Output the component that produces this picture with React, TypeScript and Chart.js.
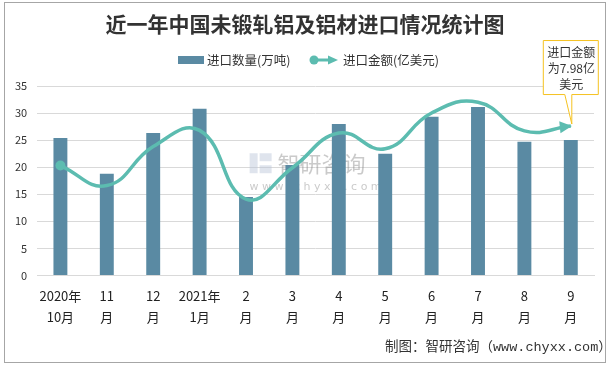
import React, { useEffect, useRef } from "react";
import { Chart, registerables } from "chart.js";

Chart.register(...registerables);

const categories: string[][] = [
  ["2020年", "10月"], ["11", "月"], ["12", "月"], ["2021年", "1月"], ["2", "月"], ["3", "月"],
  ["4", "月"], ["5", "月"], ["6", "月"], ["7", "月"], ["8", "月"], ["9", "月"],
];
const quantity: number[] = [25.4, 18.8, 26.3, 30.8, 14.5, 20.4, 28.0, 22.5, 29.3, 31.1, 24.7, 25.0];
const amount: number[] = [20.3, 16.6, 23.8, 26.8, 14.1, 19.9, 26.3, 23.4, 30.0, 32.0, 26.7, 27.6];
const yTicks: number[] = [0, 5, 10, 15, 20, 25, 30, 35];
const seriesNames = ["进口数量(万吨)", "进口金额(亿美元)"];
const titleText = "近一年中国未锻轧铝及铝材进口情况统计图";
const footerText = "制图：智研咨询（www.chyxx.com）";
const calloutLines = ["进口金额", "为7.98亿", "美元"];

const BAR = "#5a8aa3";
const LINE = "#5cbcb0";
const CJK = "'Noto Sans CJK SC', 'Microsoft YaHei', sans-serif";

const decorPlugin = {
  id: "decor",
  beforeDatasetsDraw(chart: any) {
    const ctx = chart.ctx;
    const area = chart.chartArea;
    const cx = (area.left + area.right) / 2;
    const cy = area.top + (area.bottom - area.top) * 0.45;
    ctx.save();
    ctx.globalAlpha = 0.45;
    ctx.fillStyle = "#b8c4d8";
    ctx.fillRect(cx - 66, cy - 18, 8, 20);
    ctx.fillRect(cx - 56, cy - 18, 12, 8);
    ctx.fillRect(cx - 56, cy - 6, 12, 8);
    ctx.fillStyle = "#8a8a8a";
    ctx.font = `22px ${CJK}`;
    ctx.textBaseline = "middle";
    ctx.fillText("智研咨询", cx - 38, cy - 8);
    ctx.font = "11px 'DejaVu Sans'";
    ctx.fillText("w w w . c h y x x . c o m", cx - 66, cy + 16);
    ctx.restore();
  },
  afterDatasetsDraw(chart: any) {
    const ctx = chart.ctx;
    const meta = chart.getDatasetMeta(1);
    const pts = meta.data;
    const first = pts[0];
    const last = pts[pts.length - 1];
    ctx.save();
    ctx.fillStyle = LINE;
    ctx.beginPath();
    ctx.arc(first.x, first.y, 5, 0, Math.PI * 2);
    ctx.fill();
    const dx = last.x - last.cp1x;
    const dy = last.y - last.cp1y;
    const ang = Math.atan2(dy, dx);
    const L = 11, W = 6;
    ctx.translate(last.x, last.y);
    ctx.rotate(ang);
    ctx.beginPath();
    ctx.moveTo(1, 0);
    ctx.lineTo(-L, -W);
    ctx.lineTo(-L, W);
    ctx.closePath();
    ctx.fill();
    ctx.restore();

    // callout
    const tipX = last.x + 1, tipY = last.y - 2;
    const bx0 = last.x - 28, bx1 = last.x + 27;
    const by0 = last.y - 86, by1 = last.y - 32;
    ctx.save();
    ctx.fillStyle = "#ffffff";
    ctx.strokeStyle = "#f5c220";
    ctx.lineWidth = 1;
    ctx.beginPath();
    ctx.moveTo(bx0 + 0.5, by0 + 0.5);
    ctx.lineTo(bx1 + 0.5, by0 + 0.5);
    ctx.lineTo(bx1 + 0.5, by1 + 0.5);
    ctx.lineTo(last.x + 1, by1 + 0.5);
    ctx.lineTo(tipX, tipY);
    ctx.lineTo(last.x - 6, by1 + 0.5);
    ctx.lineTo(bx0 + 0.5, by1 + 0.5);
    ctx.closePath();
    ctx.fill();
    ctx.stroke();
    ctx.fillStyle = "#333333";
    ctx.font = `12px ${CJK}`;
    ctx.textAlign = "center";
    ctx.textBaseline = "middle";
    const mid = (bx0 + bx1) / 2 + 1;
    calloutLines.forEach((t, i) => ctx.fillText(t, mid, by0 + 12 + i * 16));
    ctx.restore();
  },
  afterDraw(chart: any) {
    const ctx = chart.ctx;
    ctx.save();
    // title
    ctx.fillStyle = "#333333";
    ctx.textBaseline = "middle";
    ctx.textAlign = "center";
    ctx.font = `bold 21px ${CJK}`;
    ctx.fillText(titleText, 305, 24);
    // legend
    ctx.textAlign = "left";
    ctx.font = `12.5px ${CJK}`;
    ctx.fillStyle = BAR;
    ctx.fillRect(178, 56, 26, 8);
    ctx.fillStyle = "#333333";
    ctx.fillText(seriesNames[0], 207, 60);
    ctx.strokeStyle = LINE; ctx.fillStyle = LINE; ctx.lineWidth = 3;
    ctx.beginPath(); ctx.moveTo(314, 60); ctx.lineTo(330, 60); ctx.stroke();
    ctx.beginPath(); ctx.arc(314, 60, 4.5, 0, Math.PI * 2); ctx.fill();
    ctx.beginPath(); ctx.moveTo(328, 55.5); ctx.lineTo(338, 60); ctx.lineTo(328, 64.5); ctx.closePath(); ctx.fill();
    ctx.fillStyle = "#333333";
    ctx.fillText(seriesNames[1], 343, 60);
    // footer
    ctx.textAlign = "left";
    ctx.font = `13.5px 'Liberation Mono', 'Noto Sans CJK SC', monospace`;
    ctx.fillText(footerText, 385, 347);
    // border
    ctx.strokeStyle = "#a6a6a6";
    ctx.lineWidth = 1;
    ctx.strokeRect(4.5, 2.5, 601, 360);
    ctx.restore();
  },
};

export default function App() {
  const ref = useRef<HTMLCanvasElement>(null);
  useEffect(() => {
    document.body.style.margin = "0";
    const chart = new Chart(ref.current!, {
      type: "bar",
      data: {
        labels: categories,
        datasets: [
          {
            type: "bar",
            label: seriesNames[0],
            data: quantity,
            backgroundColor: BAR,
            barPercentage: 0.6,
            categoryPercentage: 0.5,
            order: 2,
          },
          {
            type: "line",
            label: seriesNames[1],
            data: amount,
            borderColor: LINE,
            borderWidth: 3.5,
            tension: 0.45,
            pointRadius: 0,
            order: 1,
          } as any,
        ],
      },
      options: {
        animation: false,
        responsive: false,
        layout: { padding: { left: 5, right: 20, top: 86, bottom: 38 } },
        plugins: {
          title: { display: false },
          legend: { display: false },
          tooltip: { enabled: false },
        },
        scales: {
          x: {
            grid: { display: false },
            border: { color: "#d9d9d9" },
            ticks: {
              color: "#222222",
              font: { family: CJK, size: 13, lineHeight: 1.6 },
              maxRotation: 0,
              autoSkip: false,
              padding: 2,
            },
          },
          y: {
            min: 0,
            max: 35,
            afterBuildTicks: (axis: any) => {
              axis.ticks = yTicks.map((v) => ({ value: v }));
            },
            grid: { color: "#d9d9d9", drawTicks: false },
            border: { display: false },
            ticks: {
              color: "#333333",
              font: { family: CJK, size: 11 },
              padding: 10,
            },
          },
        },
      },
      plugins: [decorPlugin],
    });
    return () => chart.destroy();
  }, []);
  return (
    <div style={{ width: 614, height: 367, background: "#fff" }}>
      <canvas ref={ref} width={614} height={367} style={{ display: "block" }} />
    </div>
  );
}
